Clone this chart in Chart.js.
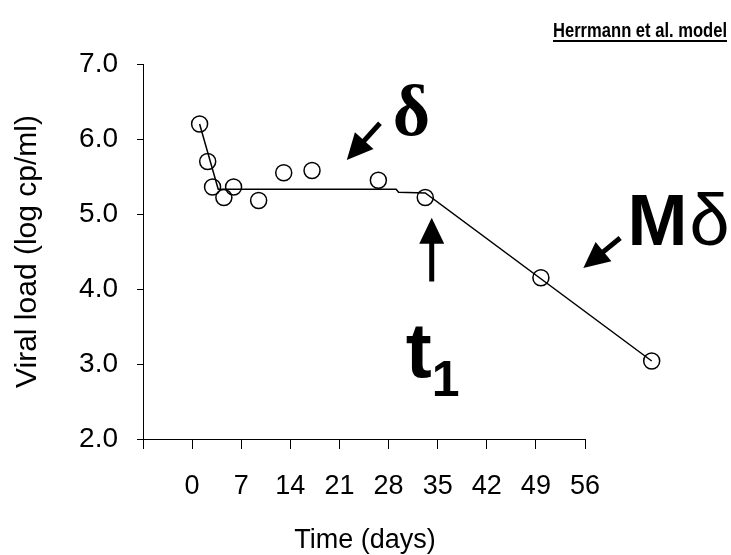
<!DOCTYPE html>
<html>
<head>
<meta charset="utf-8">
<script src="https://cdn.jsdelivr.net/npm/chart.js@4.4.1/dist/chart.umd.min.js"></script>
<style>
  html, body { margin: 0; padding: 0; background: #fff; }
</style>
</head>
<body>
<canvas id="chart" width="731" height="555"></canvas>
<script>
// observed viral load (circles)
const observedDays = [0, 1, 1.6, 3, 4.2, 7.3, 10.4, 13.9, 22.1, 27.9, 42.2, 55.9];
const observedLoad = [6.20, 5.70, 5.36, 5.22, 5.36, 5.18, 5.55, 5.58, 5.45, 5.22, 4.15, 3.04];
// fitted model curve
const modelDays = [0, 2.3, 24.3, 24.6, 27.9, 55.9];
const modelLoad = [6.20, 5.33, 5.33, 5.29, 5.28, 3.04];
// axis ticks
const xTickLabels = [0, 7, 14, 21, 28, 35, 42, 49, 56];
const yTickLabels = [2.0, 3.0, 4.0, 5.0, 6.0, 7.0];

const chartTitle = "Herrmann et al. model";
const xTitle = "Time (days)";
const yTitle = "Viral load (log cp/ml)";

// annotations, in data units of the plotted series
const arrows = [
    { from: [22.3, 6.21], to: [18.2, 5.72] },
    { from: [52.0, 4.68], to: [47.45, 4.28] },
    { from: [28.7, 4.10], to: [28.7, 4.95] },
];

const SANS = '"Liberation Sans", Arial, sans-serif';
Chart.defaults.font.family = SANS;
Chart.defaults.color = "#000";

function drawArrow(ctx, x1, y1, x2, y2) {
    const headLen = 26, headHalf = 12.5;
    const ang = Math.atan2(y2 - y1, x2 - x1);
    const bx = x2 - headLen * Math.cos(ang), by = y2 - headLen * Math.sin(ang);
    ctx.lineWidth = 5;
    ctx.beginPath();
    ctx.moveTo(x1, y1);
    ctx.lineTo(bx + 2 * Math.cos(ang), by + 2 * Math.sin(ang));
    ctx.stroke();
    ctx.beginPath();
    ctx.moveTo(x2, y2);
    ctx.lineTo(bx + headHalf * Math.sin(ang), by - headHalf * Math.cos(ang));
    ctx.lineTo(bx - headHalf * Math.sin(ang), by + headHalf * Math.cos(ang));
    ctx.closePath();
    ctx.fill();
}

const overlay = {
    id: "overlay",
    afterDraw(chart) {
        const { ctx, chartArea } = chart;
        const xs = chart.scales.x, xd = chart.scales.xData, ys = chart.scales.y;
        const px = (v) => xd.getPixelForValue(v);
        const py = (v) => ys.getPixelForValue(v);
        const x0 = xs.getPixelForValue(-7), x1 = xs.getPixelForValue(56);
        ctx.save();
        ctx.strokeStyle = "#000";
        ctx.fillStyle = "#000";

        // x axis line over the labelled range only
        ctx.lineWidth = 1;
        const yb = Math.round(chartArea.bottom) + 0.5;
        ctx.beginPath();
        ctx.moveTo(x0, yb);
        ctx.lineTo(x1, yb);
        ctx.stroke();

        // x axis title
        ctx.font = "27px " + SANS;
        ctx.textAlign = "center";
        ctx.textBaseline = "alphabetic";
        ctx.fillText(xTitle, (x0 + x1) / 2 + 1, 548);

        // underlined title, top right
        ctx.font = "bold 20px " + SANS;
        ctx.textAlign = "right";
        const tw = Math.min(ctx.measureText(chartTitle).width, 174);
        ctx.fillText(chartTitle, 727, 37, tw);
        ctx.fillRect(727 - tw, 40, tw, 2);

        // arrows
        arrows.forEach((a) => drawArrow(ctx, px(a.from[0]), py(a.from[1]), px(a.to[0]), py(a.to[1])));

        // delta
        ctx.textAlign = "center";
        ctx.font = 'bold 72px "Liberation Serif", serif';
        ctx.fillText("δ", px(26.2), py(6.06));

        // M delta
        ctx.textAlign = "left";
        ctx.font = "bold 72px " + SANS;
        const mx = px(52.9);
        ctx.fillText("M", mx, py(4.59));
        const mw = ctx.measureText("M").width;
        ctx.font = "72px " + SANS;
        ctx.fillText("δ", mx + mw + 2, py(4.59));

        // t1
        ctx.font = "bold 78px " + SANS;
        ctx.fillText("t", px(25.5), py(2.83));
        ctx.font = "bold 50px " + SANS;
        ctx.fillText("1", px(28.7), py(2.58));
        ctx.restore();
    },
};

const ctx = document.getElementById("chart").getContext("2d");
const chart = new Chart(ctx, {
    type: "scatter",
    data: {
        datasets: [
            {
                label: "Observed",
                data: observedDays.map((d, i) => ({ x: d, y: observedLoad[i] })),
                xAxisID: "xData",
                yAxisID: "y",
                showLine: false,
                pointRadius: 8,
                pointBorderWidth: 1.5,
                pointBorderColor: "#000",
                pointBackgroundColor: "rgba(0,0,0,0)",
                clip: false,
                order: 0,
            },
            {
                label: "Model",
                data: modelDays.map((d, i) => ({ x: d, y: modelLoad[i] })),
                xAxisID: "xData",
                yAxisID: "y",
                showLine: true,
                borderColor: "#000",
                borderWidth: 1.5,
                pointRadius: 0,
                clip: false,
                order: 1,
            },
        ],
    },
    options: {
        responsive: false,
        animation: false,
        layout: { padding: { top: 64, right: 0, bottom: 0, left: 0 } },
        plugins: { legend: { display: false }, tooltip: { enabled: false } },
        scales: {
            x: {
                type: "linear",
                position: "bottom",
                min: -7,
                max: 76.8,
                afterBuildTicks: (s) => { s.ticks = [-7, ...xTickLabels].map((v) => ({ value: v })); },
                afterFit: (s) => { s.height = 116; },
                border: { display: false },
                grid: { drawOnChartArea: false, tickLength: 10, color: "#000", lineWidth: 1 },
                ticks: {
                    font: { size: 27 },
                    padding: 21,
                    maxRotation: 0,
                    callback: (v) => (xTickLabels.includes(v) ? String(v) : ""),
                },
            },
            xData: {
                type: "linear",
                position: "bottom",
                display: false,
                min: -7,
                max: 65.7,
            },
            y: {
                type: "linear",
                min: 2,
                max: 7,
                afterBuildTicks: (s) => { s.ticks = yTickLabels.map((v) => ({ value: v })); },
                afterFit: (s) => { s.width = 143; },
                border: { display: true, color: "#000", width: 1 },
                grid: { drawOnChartArea: false, tickLength: 6, color: "#000", lineWidth: 1 },
                ticks: { font: { size: 28 }, padding: 19, callback: (v) => v.toFixed(1) },
                title: {
                    display: true,
                    text: yTitle,
                    font: { size: 30 },
                    padding: { top: 10, bottom: 0 },
                },
            },
        },
    },
    plugins: [overlay],
});

// fit both horizontal ranges to the plot area: labelled axis ends at day 56 (x=585),
// while the data run a little further to the right, as in the original figure
const area = chart.chartArea;
const span = area.right - area.left;
chart.options.scales.x.max = -7 + span * 63 / (585 - area.left);
chart.options.scales.xData.max = -7 + span * 63 / (652.5 - area.left);
chart.update();
</script>
</body>
</html>
